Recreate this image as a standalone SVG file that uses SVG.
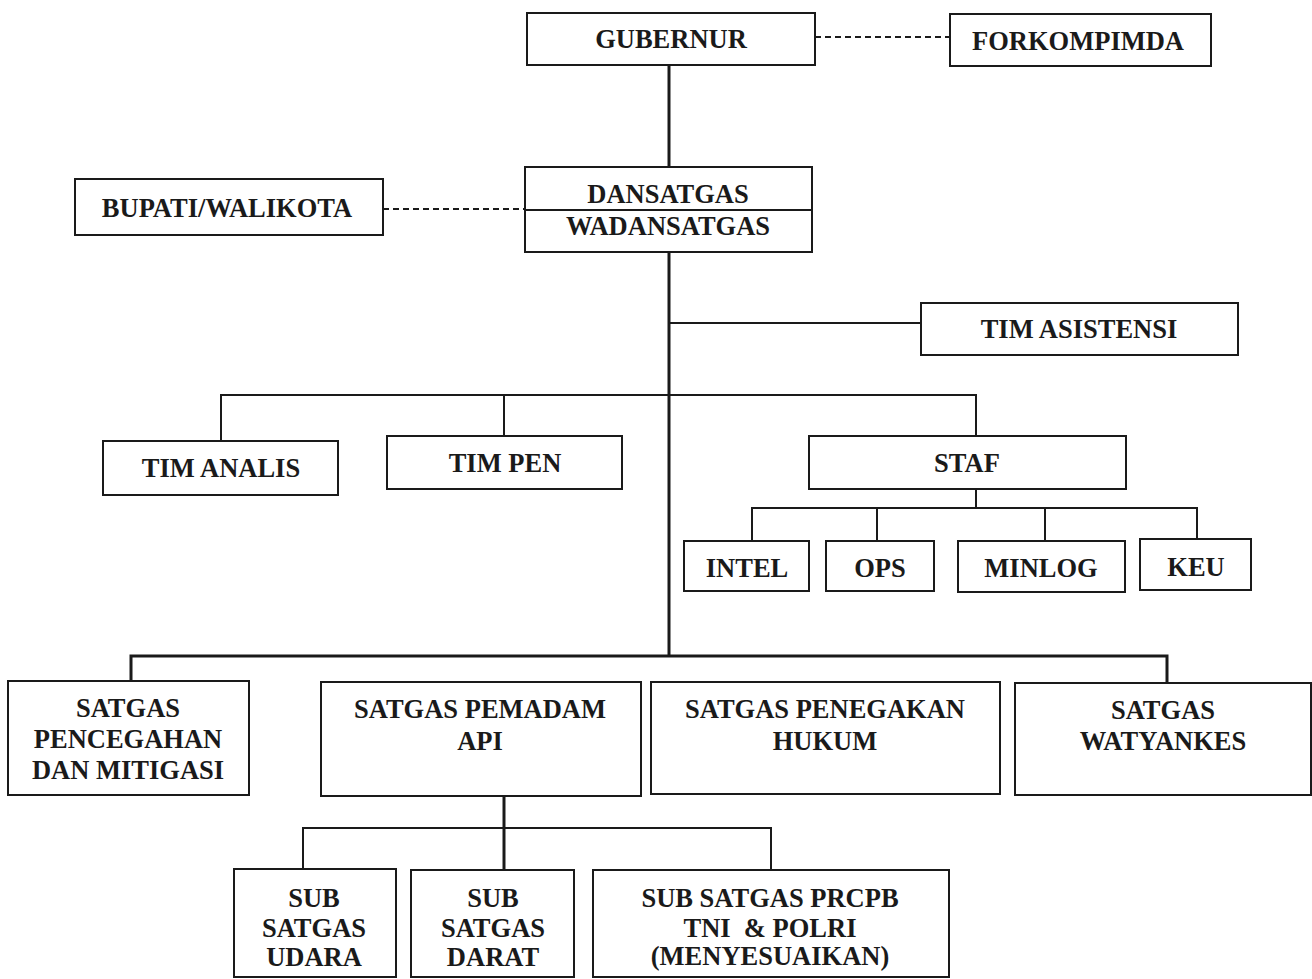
<svg xmlns="http://www.w3.org/2000/svg" width="1312" height="979" viewBox="0 0 1312 979">
<style>
.box{fill:#fff;stroke:#1a1a1a;stroke-width:2}
.t{font-family:"Liberation Serif","Times New Roman",serif;font-weight:bold;font-size:26.5px;fill:#1a1a1a;text-anchor:middle}
.ln{stroke:#1a1a1a;stroke-width:2;fill:none}
.thick{stroke:#1a1a1a;stroke-width:3;fill:none}
.dash{stroke:#1a1a1a;stroke-width:2;fill:none;stroke-dasharray:6,4}
</style>
<rect width="1312" height="979" fill="#fff"/>
<g id="connectors">
<line class="dash" x1="815" y1="37" x2="950" y2="37"/>
<line class="dash" x1="383" y1="209" x2="525" y2="209"/>
<line class="thick" x1="669" y1="65" x2="669" y2="167"/>
<line class="thick" x1="669" y1="252" x2="669" y2="657"/>
<line class="ln" x1="669" y1="323" x2="921" y2="323"/>
<polyline class="ln" points="221,441 221,395 976,395 976,436"/>
<line class="ln" x1="504" y1="395" x2="504" y2="436"/>
<line class="ln" x1="976" y1="489" x2="976" y2="508"/>
<polyline class="ln" points="752,541 752,508 1197,508 1197,539"/>
<line class="ln" x1="877" y1="508" x2="877" y2="541"/>
<line class="ln" x1="1045" y1="508" x2="1045" y2="541"/>
<polyline class="thick" points="131,681 131,656 1167,656 1167,683"/>
<line class="thick" x1="504" y1="796" x2="504" y2="870"/>
<polyline class="ln" points="303,869 303,828 771,828 771,870"/>
</g>
<g id="gubernur"><rect class="box" x="527" y="13" width="288" height="52"/><text class="t" x="671" y="48">GUBERNUR</text></g>
<g id="forkompimda"><rect class="box" x="950" y="14" width="261" height="52"/><text class="t" x="1078" y="50">FORKOMPIMDA</text></g>
<g id="bupati"><rect class="box" x="75" y="179" width="308" height="56"/><text class="t" x="227" y="217">BUPATI/WALIKOTA</text></g>
<g id="dansatgas"><rect class="box" x="525" y="167" width="287" height="85"/><line class="ln" x1="525" y1="210" x2="812" y2="210"/><text class="t" x="668" y="203">DANSATGAS</text><text class="t" x="668" y="235">WADANSATGAS</text></g>
<g id="tim-asistensi"><rect class="box" x="921" y="303" width="317" height="52"/><text class="t" x="1079" y="338">TIM ASISTENSI</text></g>
<g id="tim-analis"><rect class="box" x="103" y="441" width="235" height="54"/><text class="t" x="221" y="477">TIM ANALIS</text></g>
<g id="tim-pen"><rect class="box" x="387" y="436" width="235" height="53"/><text class="t" x="505" y="472">TIM PEN</text></g>
<g id="staf"><rect class="box" x="809" y="436" width="317" height="53"/><text class="t" x="967" y="472">STAF</text></g>
<g id="intel"><rect class="box" x="684" y="541" width="125" height="50"/><text class="t" x="747" y="577">INTEL</text></g>
<g id="ops"><rect class="box" x="826" y="541" width="108" height="50"/><text class="t" x="880" y="577">OPS</text></g>
<g id="minlog"><rect class="box" x="958" y="541" width="167" height="51"/><text class="t" x="1041" y="577">MINLOG</text></g>
<g id="keu"><rect class="box" x="1140" y="539" width="111" height="51"/><text class="t" x="1196" y="576">KEU</text></g>
<g id="satgas-pencegahan"><rect class="box" x="8" y="681" width="241" height="114"/><text class="t" x="128" y="717">SATGAS</text><text class="t" x="128" y="748">PENCEGAHAN</text><text class="t" x="128" y="779">DAN MITIGASI</text></g>
<g id="satgas-pemadam"><rect class="box" x="321" y="682" width="320" height="114"/><text class="t" x="480" y="718">SATGAS PEMADAM</text><text class="t" x="480" y="750">API</text></g>
<g id="satgas-penegakan"><rect class="box" x="651" y="682" width="349" height="112"/><text class="t" x="825" y="718">SATGAS PENEGAKAN</text><text class="t" x="825" y="750">HUKUM</text></g>
<g id="satgas-watyankes"><rect class="box" x="1015" y="683" width="296" height="112"/><text class="t" x="1163" y="719">SATGAS</text><text class="t" x="1163" y="750">WATYANKES</text></g>
<g id="sub-udara"><rect class="box" x="234" y="869" width="162" height="108"/><text class="t" x="314" y="907">SUB</text><text class="t" x="314" y="937">SATGAS</text><text class="t" x="314" y="966">UDARA</text></g>
<g id="sub-darat"><rect class="box" x="411" y="870" width="163" height="107"/><text class="t" x="493" y="907">SUB</text><text class="t" x="493" y="937">SATGAS</text><text class="t" x="493" y="966">DARAT</text></g>
<g id="sub-prcpb"><rect class="box" x="593" y="870" width="356" height="107"/><text class="t" x="770" y="907">SUB SATGAS PRCPB</text><text class="t" x="770" y="937" xml:space="preserve">TNI  &amp; POLRI</text><text class="t" x="770" y="965">(MENYESUAIKAN)</text></g>
</svg>
